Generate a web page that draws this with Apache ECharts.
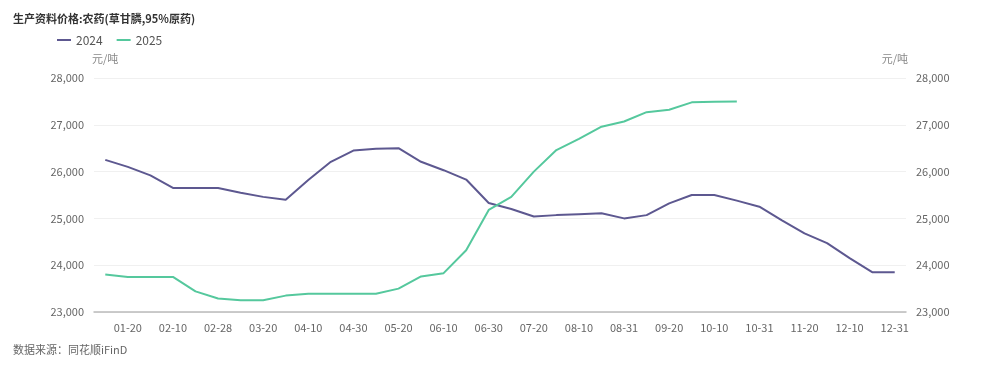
<!DOCTYPE html>
<html><head><meta charset="utf-8">
<script src="https://cdn.jsdelivr.net/npm/echarts@6/dist/echarts.min.js"></script>
<style>html,body{margin:0;padding:0;background:#fff}#c{width:1000px;height:370px}</style>
</head><body><div id="c"></div>
<script>
var categories = ['01-10','01-20','01-31','02-10','02-20','02-28','03-10','03-20','03-31','04-10','04-20','04-30','05-10','05-20','05-31','06-10','06-20','06-30','07-10','07-20','07-31','08-10','08-20','08-31','09-10','09-20','09-30','10-10','10-20','10-31','11-10','11-20','11-30','12-10','12-20','12-31'];
var s2024 = [26250,26100,25920,25650,25650,25650,25550,25460,25400,25820,26210,26450,26490,26500,26210,26030,25830,25330,25200,25040,25070,25090,25110,25000,25070,25320,25500,25500,25380,25250,24960,24680,24470,24150,23850,23850];
var s2025 = [23800,23750,23750,23750,23440,23290,23250,23250,23350,23390,23390,23390,23390,23500,23760,23830,24320,25180,25460,26000,26460,26700,26960,27070,27270,27320,27480,27490,27500,null,null,null,null,null,null,null];
var yTicks = {min:23000, max:28000, interval:1000};
var font = '"Noto Sans CJK SC","Noto Sans",sans-serif';
var chart = echarts.init(document.getElementById('c'));
function yAxis(pos, split){
  return {
    type:'value', position:pos, min:yTicks.min, max:yTicks.max, interval:yTicks.interval,
    name:'元/吨', nameGap:14,
    nameTextStyle:{color:'#888', fontSize:11, fontFamily:font, align: pos==='left'?'left':'right', padding: pos==='left'?[0,0,0,-2]:[0,-2,0,0]},
    axisLine:{show:false}, axisTick:{show:false},
    axisLabel:{color:'#666', fontSize:11, fontFamily:font, margin:10,
      formatter:function(v){return v.toLocaleString('en-US');}},
    splitLine:{show:split, lineStyle:{color:'#f0f0f0', width:1}}
  };
}
chart.setOption({
  animation:false,
  textStyle:{fontFamily:font},
  title:{text:'生产资料价格:农药(草甘膦,95%原药)', left:13, top:13, padding:0,
    textStyle:{fontSize:11, fontWeight:'bold', color:'#333', fontFamily:font}},
  legend:{left:57, top:34, padding:0, itemWidth:14, itemHeight:2, itemGap:14,
    textStyle:{color:'#555', fontSize:12, fontFamily:font},
    data:[{name:'2024', icon:'rect'},{name:'2025', icon:'rect'}]},
  graphic:[{type:'text', left:13, top:344, style:{text:'数据来源：同花顺iFinD', fill:'#666', fontSize:11, fontFamily:font}}],
  grid:{left:94, right:94, top:78, bottom:58, containLabel:false},
  xAxis:{type:'category', data:categories, boundaryGap:true,
    axisLine:{lineStyle:{color:'#bbb', width:1.5}}, axisTick:{show:false},
    axisLabel:{color:'#666', fontSize:11, fontFamily:font, margin:10,
      interval:function(i){return i%2===1;}}},
  yAxis:[yAxis('left', true), yAxis('right', false)],
  series:[
    {name:'2024', type:'line', data:s2024, symbol:'none', yAxisIndex:0,
      lineStyle:{color:'#5d5890', width:2}, itemStyle:{color:'#5d5890'}},
    {name:'2025', type:'line', data:s2025, symbol:'none', yAxisIndex:0,
      lineStyle:{color:'#55c89d', width:2}, itemStyle:{color:'#55c89d'}}
  ]
});
</script></body></html>
